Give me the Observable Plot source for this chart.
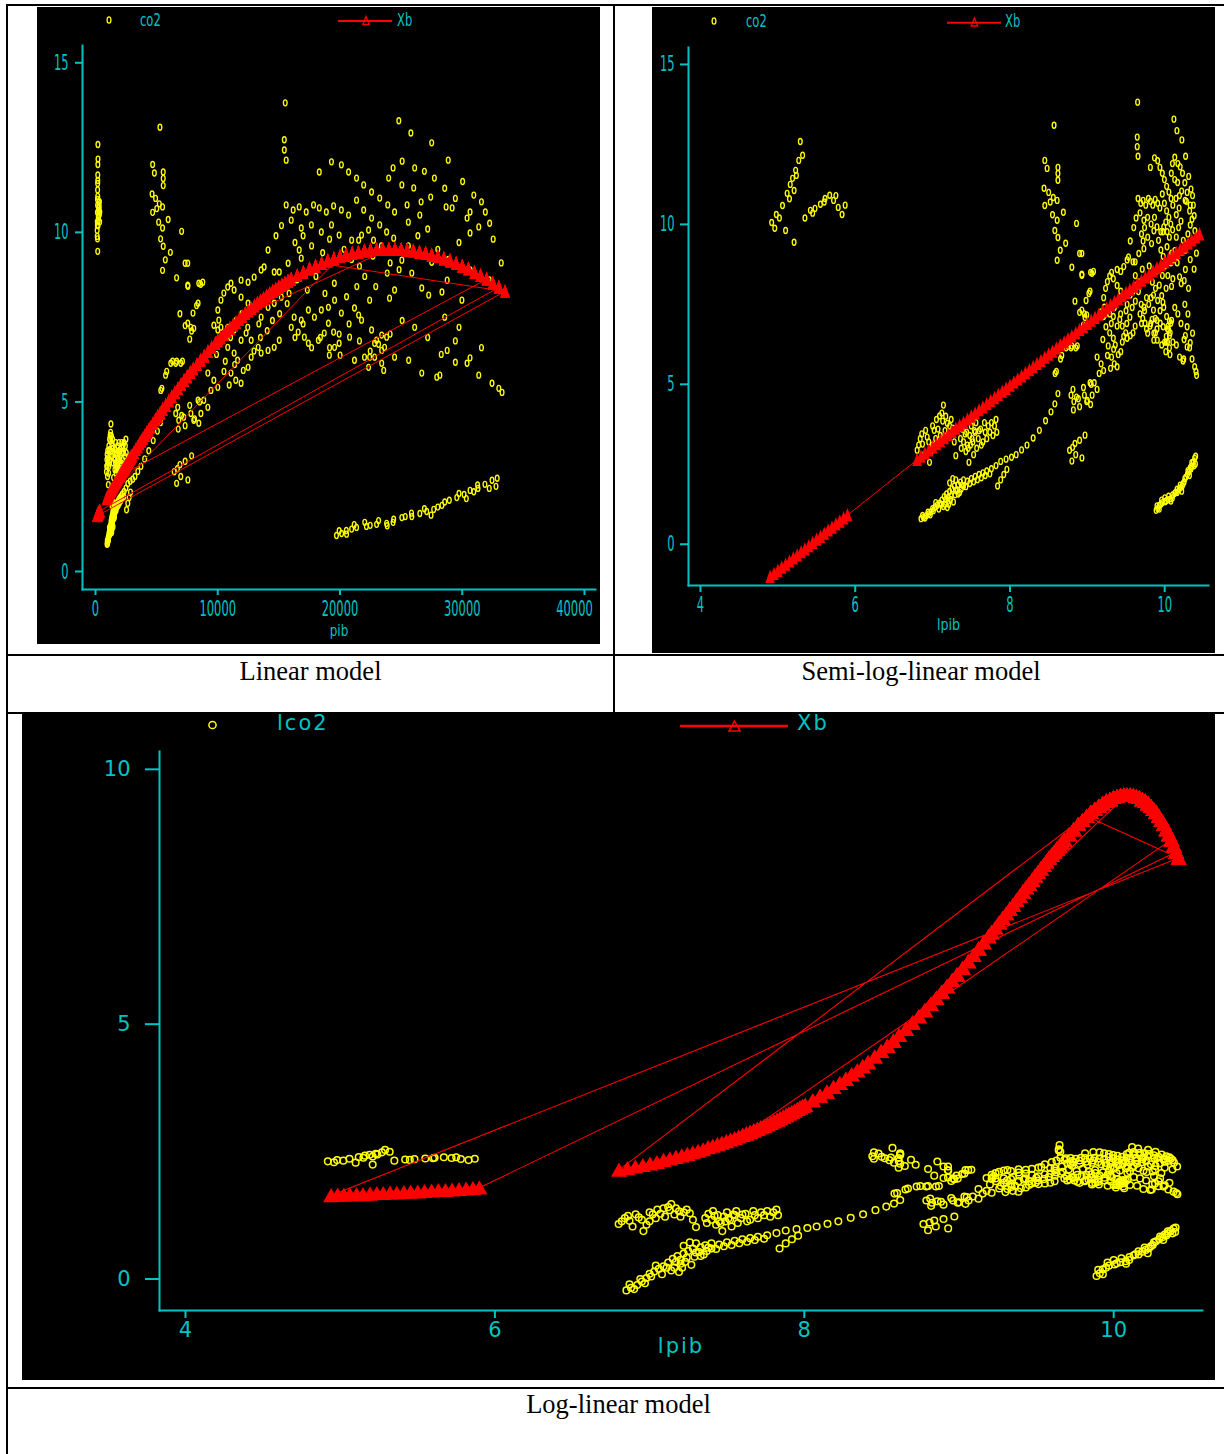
<!DOCTYPE html>
<html><head><meta charset="utf-8">
<script src="https://cdn.jsdelivr.net/npm/d3@7"></script>
<script src="https://cdn.jsdelivr.net/npm/@observablehq/plot@0.6"></script>
<style>
html,body{margin:0;padding:0;background:#fff;}
#page{position:relative;width:1224px;height:1454px;overflow:hidden;background:#fff;}
.rule{position:absolute;background:#000;}
.panel{position:absolute;background:#000;}
.panel svg{display:block;}
#overlay{position:absolute;left:0;top:0;pointer-events:none;}
</style></head><body><div id="page">
<div class="rule" style="left:6px;top:4px;width:2px;height:1450px"></div>
<div class="rule" style="left:6px;top:4px;width:1218px;height:2px"></div>
<div class="rule" style="left:613px;top:4px;width:2px;height:709px"></div>
<div class="rule" style="left:6px;top:654px;width:1218px;height:2px"></div>
<div class="rule" style="left:6px;top:712px;width:1218px;height:2px"></div>
<div class="rule" style="left:6px;top:1387px;width:1218px;height:2px"></div>
<div class="panel" id="p1" style="left:37px;top:7px;width:563px;height:637px"></div>
<div class="panel" id="p2" style="left:652px;top:7px;width:563px;height:646px"></div>
<div class="panel" id="p3" style="left:22px;top:714px;width:1193px;height:666px"></div>
<svg id="overlay" width="1224" height="1454">
 <g font-family="'DejaVu Sans', sans-serif" fill="#00c4c4" font-size="17">
  <ellipse cx="109" cy="20" rx="1.9" ry="3.2" fill="none" stroke="#ffff00" stroke-width="1.3"/>
  <text transform="translate(140,25.5) scale(0.68,1)">co2</text>
  <line x1="338" x2="392" y1="21" y2="21" stroke="#ff0000" stroke-width="2"/>
  <path d="M366,16.5L369.3,24.5L362.7,24.5Z" fill="none" stroke="#ff0000" stroke-width="1.3"/>
  <text transform="translate(397,25.5) scale(0.68,1)">Xb</text>
  <ellipse cx="714" cy="21" rx="1.9" ry="3.2" fill="none" stroke="#ffff00" stroke-width="1.3"/>
  <text transform="translate(746,26.5) scale(0.68,1)">co2</text>
  <line x1="947" x2="1001" y1="22.7" y2="22.7" stroke="#ff0000" stroke-width="2"/>
  <path d="M974.5,18L977.8,26L971.2,26Z" fill="none" stroke="#ff0000" stroke-width="1.3"/>
  <text transform="translate(1005,26.5) scale(0.68,1)">Xb</text>
 </g>
 <g font-family="'DejaVu Sans', sans-serif" fill="#00c4c4" font-size="21" letter-spacing="2">
  <circle cx="212.5" cy="725" r="3.6" fill="none" stroke="#ffff00" stroke-width="1.5"/>
  <text x="277" y="730">lco2</text>
  <line x1="680" x2="788" y1="726" y2="726" stroke="#ff0000" stroke-width="2.5"/>
  <path d="M734.5,721L740,731L729,731Z" fill="none" stroke="#ff0000" stroke-width="1.5"/>
  <text x="797" y="730">Xb</text>
 </g>
 <g font-family="'Liberation Serif','Times New Roman',serif" font-size="26.5" fill="#000" text-anchor="middle">
  <text x="310.5" y="680">Linear model</text>
  <text x="921" y="680">Semi-log-linear model</text>
  <text x="618.5" y="1413">Log-linear model</text>
 </g>
</svg>
</div>
<script>
const CYAN = "#00c4c4", YELLOW = "#ffff00", RED = "#ff0000";

// ---- Observations: [lpib, co2] (lpib = log of pib) ----
const obsPoorHighCo2 = [[4.92,10.06],[4.96,9.88],[4.98,10.31],[5.02,10.2],[5.06,10.59],[5.10,9.81],[5.12,10.97],[5.15,10.8],[5.16,11.25],[5.19,11.44],[5.21,11.06],[5.21,9.44],[5.23,11.69],[5.24,11.53],[5.27,12.0],[5.29,12.59],[5.32,12.16],[5.35,10.2],[5.42,10.44],[5.45,10.35],[5.48,10.5],[5.55,10.63],[5.6,10.7],[5.61,10.81],[5.67,10.91],[5.72,10.75],[5.75,10.9],[5.78,10.53],[5.83,10.31],[5.87,10.6]];
const obsLowB1 = [[6.80,2.94],[6.84,3.3],[6.87,3.13],[6.91,3.56],[6.95,3.2],[6.96,2.56],[6.98,2.9],[7.0,3.1],[7.02,3.56],[7.05,3.9],[7.09,4.01],[7.12,4.1],[7.14,4.35],[7.17,4.0],[7.19,3.78],[7.22,3.7],[7.26,3.63],[7.30,2.77],
[6.82,3.1],[6.86,3.45],[6.89,2.8],[6.93,3.35],[7.0,3.7],[7.04,3.3],[7.07,3.6],[7.10,3.4],[7.13,3.85],[7.16,3.55],[7.20,3.4],[7.24,3.9],[7.28,3.2]];
const obsLowB2 = [[7.36,3.3],[7.38,3.6],[7.40,3.2],[7.42,3.45],[7.43,2.9],[7.44,3.5],[7.45,3.1],[7.46,3.0],[7.47,2.56],[7.48,3.4],[7.50,3.7],[7.51,3.3],[7.52,3.2],[7.53,2.8],[7.54,3.55],[7.55,3.5],[7.57,3.0],[7.59,3.3],[7.62,3.6],[7.65,3.2],[7.68,3.5],[7.72,3.7],[7.76,3.8],[7.80,3.7],[7.83,3.5],
[7.37,3.0],[7.41,3.8],[7.49,3.1],[7.56,3.8],[7.60,3.55],[7.63,3.1],[7.67,3.8],[7.70,3.3],[7.74,3.5],[7.78,3.4],[7.82,3.9]];
const obsLowB3 = [[6.85,0.80],[6.88,0.84],[6.92,0.89],[6.95,0.95],[6.98,1.02],[7.00,1.11],[7.03,1.16],[7.06,1.22],[7.09,1.28],[7.12,1.38],[7.15,1.49],[7.16,1.25],[7.18,1.57],[7.19,1.15],[7.20,1.46],[7.20,1.35],[7.22,1.65],[7.22,1.92],[7.24,1.52],[7.25,1.73],[7.26,2.05],[7.27,1.32],[7.28,1.82],[7.30,1.68],[7.30,2.01],[7.33,1.86],[7.33,1.57],[7.36,1.94],[7.37,1.73],[7.40,2.01],[7.40,1.82],[7.45,1.97],[7.50,2.05],[7.55,2.12],[7.60,2.18],[7.65,2.23],[7.70,2.29],[7.76,2.36],[7.82,2.46],[7.84,1.82],[7.88,2.59],[7.88,2.01],[7.92,2.18],[7.95,2.66],[7.96,2.34],[8.02,2.72],[8.08,2.80],[8.15,2.95],[8.22,3.10],[8.30,3.32],[8.38,3.56],[8.46,3.86],[8.53,4.14],[8.58,4.39],[8.62,4.71],
[6.87,0.90],[6.90,0.82],[6.94,1.0],[6.97,0.92],[7.01,1.05],[7.04,1.30],[7.08,1.10],[7.11,1.25],[7.14,1.18],[7.17,1.40],[7.21,1.25],[7.23,1.40],[7.29,1.55],[7.32,1.70],[7.35,1.62],[7.38,1.85],[7.43,1.80],[7.48,1.90],[7.53,1.95],[7.58,2.02],[7.63,2.08],[7.68,2.15],[7.74,2.20]];
const obsMidG = [[8.77,2.94],[8.80,2.6],[8.81,3.03],[8.84,3.15],[8.85,2.8],[8.90,3.25],[8.93,2.7],[8.97,3.41],[8.82,4.2],[8.86,4.6],[8.90,4.3],[8.95,4.9],[9.0,4.5],[9.05,5.0],[8.60,5.4],[8.67,5.9],[8.75,6.2],[8.80,6.2],[8.87,6.2]];
const obsMidHighD = [[8.57,13.1],[8.45,12.0],[8.48,11.75],[8.62,11.78],[8.62,11.59],[8.62,11.38],[8.44,11.13],[8.45,10.59],[8.56,10.84],[8.61,10.75],[8.69,10.38],[8.61,10.13],[8.58,9.81],[8.62,9.59],[8.72,9.41],[8.65,9.19],[8.61,8.88],[8.52,10.7],[8.55,10.3],[8.50,11.0],[8.86,10.03],[8.90,9.09],[8.80,8.66],[8.93,8.41],[9.06,8.47],[9.02,7.84],[8.90,7.25],[8.97,7.09],[8.84,7.6],[8.95,6.85]];
const obsCloudMid = [[9.555,9.48],[9.721,9.48],[9.731,9.24],[9.665,9.09],[9.950,9.77],[9.977,9.77],[10.014,10.07],[10.161,8.80],[10.192,8.36],[10.213,8.15],[10.267,8.59],[10.105,8.30],[10.088,8.06],[10.018,8.00],[9.961,7.77],[9.977,7.56],[9.909,7.62],[9.881,8.00],[9.855,7.79],[9.824,7.71],[9.793,7.50],[9.765,7.71],[9.731,7.41],[9.696,7.50],[9.681,7.20],[9.716,7.06],[9.746,6.91],[9.765,6.73],[9.811,6.82],[9.837,7.03],[9.855,7.32],[9.877,7.06],[9.900,6.73],[9.881,6.61],[9.859,6.38],[9.904,6.38],[9.942,6.91],[9.988,7.41],[10.025,7.12],[10.043,6.82],[10.061,6.52],[10.036,6.32],[9.999,6.32],[10.014,6.02],[10.068,5.93],[9.961,6.23],[9.618,6.82],[9.590,6.61],[9.555,6.52],[9.514,6.44],[9.496,6.61],[9.452,6.82],[9.419,7.03],[9.385,6.82],[9.336,7.12],[9.289,7.20],[9.514,7.50],[9.555,7.79],[9.590,7.91],[9.629,8.09],[9.471,7.71],[9.432,7.91],[9.385,8.09],[9.336,8.30],[9.385,8.59],[9.432,8.53],[9.471,8.68],[9.514,8.89],[9.590,8.83],[9.618,8.83],[9.532,8.98],[9.211,7.71],[9.236,8.00],[9.259,8.21],[9.289,8.39],[9.313,8.50],[9.219,7.41],[9.178,7.26],[9.211,7.12],[9.236,7.20]];
const obsCloudDense = [[9.60,9.9],[9.63,10.2],[9.70,9.7],[9.74,9.9],[9.78,9.6],[9.83,9.4],[9.86,9.8],[9.92,9.5],[9.95,9.2],[9.98,9.0],[10.03,9.3],[10.06,9.6],[10.09,9.1],[10.12,8.9],[10.15,9.6],[10.18,9.9],[10.21,10.1],[10.24,9.5],[10.27,9.2],[10.30,9.7],[10.33,10.6],[10.36,10.9],[10.39,9.8],[10.41,9.1],
[9.62,8.4],[9.67,8.2],[9.71,8.6],[9.76,8.3],[9.80,8.7],[9.84,8.2],[9.88,8.5],[9.93,8.1],[9.97,8.4],[10.00,8.7],[10.04,8.4],[10.08,8.8],
[9.50,7.3],[9.55,7.1],[9.58,7.4],[9.62,7.6],[9.66,7.9],[9.70,6.9],[9.74,7.3],[9.78,6.6],[9.82,6.9],[9.86,6.6],[9.90,7.0],[9.94,7.3],[9.98,6.8],[10.02,6.5],[10.05,6.7],[10.09,7.0],[10.13,7.4],[10.17,7.2],[10.21,6.9],[10.25,6.4],[10.29,6.8],[10.33,6.3],
[9.20,6.4],[9.24,6.8],[9.27,6.2],[9.31,6.9],[9.35,7.4],[9.39,7.6],[9.43,7.2],[9.47,6.5],[9.51,6.9],[9.26,5.9],[9.30,5.5],[9.34,6.1],
[10.20,11.8],[10.23,11.6],[10.26,11.3],[10.29,11.0],[10.31,11.5],[10.34,11.1],[10.37,10.6],[10.17,11.9],[10.13,12.1],[10.10,11.9],[10.15,10.3],[10.19,10.9]];
const obsCloudLow = [[9.126,5.85],[9.178,5.64],[9.211,5.43],[9.153,5.34],[9.089,5.05],[9.126,4.84],[9.062,4.66],[9.035,5.05],[8.962,4.66],[8.992,4.46],[9.042,4.37],[8.814,4.84],[8.884,4.55],[8.789,4.66],[8.826,4.46],[8.962,7.20],[8.929,7.32],[8.992,7.17],[8.789,6.14],[8.726,6.14],[8.851,6.14],[8.654,5.79],[8.583,5.34],[8.984,7.62],[9.035,7.91],[8.929,9.09],[8.929,8.44],[9.042,8.50],[9.080,8.53],[9.289,6.61],[9.336,6.44],[9.361,6.23],[9.400,5.93],[9.385,5.55],[9.348,5.64],[9.313,5.85],[9.452,6.32],[9.432,6.02]];
const obsCloudRight = [[10.105,6.32],[10.151,6.23],[10.192,5.85],[10.237,5.73],[10.246,5.79],[10.267,6.52],[10.290,6.17],[10.322,6.14],[10.353,5.79],[10.387,5.55],[10.404,5.40],[10.412,5.28],[10.061,6.97],[10.078,6.91],[10.071,6.61],[10.036,6.73],[10.018,6.32],[10.061,6.14],[10.129,9.18],[10.222,9.12],[10.252,8.24],[10.308,8.0],[10.30,7.2],[10.36,6.6],[10.26,7.5],[10.33,8.9],[10.38,8.6]];
const obsCloudHigh = [[9.650,13.82],[9.645,12.73],[9.645,12.43],[9.655,12.13],[10.119,13.29],[10.158,12.93],[10.222,12.64],[10.270,12.13],[9.655,10.81],[9.691,10.66],[9.721,10.75],[9.755,10.60],[9.789,10.81],[9.815,10.72],[9.846,10.60],[9.877,10.78],[9.909,10.66],[9.938,10.51],[9.681,10.36],[9.731,10.13],[9.779,10.22],[9.824,10.01],[9.868,10.22],[9.900,9.92],[9.815,11.78],[9.868,12.08],[9.909,11.99],[9.938,11.78],[9.969,11.60],[9.996,11.40],[10.025,11.19],[10.054,11.01],[10.082,10.81],[10.105,10.60],[9.969,10.95],[9.996,10.66],[10.025,10.42],[10.054,10.22],[10.078,10.01],[10.102,9.83],[9.988,9.92],[10.032,9.77],[10.146,10.81],[10.186,10.51],[10.219,11.04],[10.264,10.75],[10.281,10.72],[10.322,10.42],[10.330,9.98],[10.353,10.16],[10.381,10.27],[10.129,11.40],[10.167,11.31],[10.085,11.60]];
const obsRichLowCo2 = [[9.889,1.06],[9.929,1.21],[9.969,1.30],[10.006,1.33],[10.043,1.39],[10.078,1.42],[10.102,1.54],[10.129,1.59],[10.161,1.62],[10.186,1.71],[10.207,1.77],[10.228,1.83],[10.252,1.95],[10.273,2.10],[10.294,2.18],[10.314,2.27],[10.330,2.39],[10.351,2.45],[10.369,2.57],[10.387,2.69],[10.397,2.51],[9.91,1.12],[9.95,1.25],[10.02,1.36],[10.14,1.62],[10.24,1.90],[10.34,2.35],
[9.90,1.2],[9.96,1.38],[10.0,1.45],[10.05,1.5],[10.1,1.45],[10.16,1.72],[10.2,1.85],[10.26,2.05],[10.3,2.3],[10.35,2.55],[10.38,2.45],[10.4,2.75],[9.93,1.1],[10.08,1.35],[10.22,1.66],[10.32,2.15]];

// ---- Fitted values Xb of the linear (quadratic in pib) model: [pib, Xb] ----
const fitQuadratic = [[140,1.64],[146,1.65],[152,1.65],[158,1.66],[165,1.66],[172,1.66],[180,1.67],[188,1.68],[196,1.68],[205,1.69],[214,1.69],[224,1.70],[234,1.71],[245,1.71],[256,1.72],[268,1.73],[280,1.74],[293,1.74],[306,1.75],[320,1.76],[335,1.77],[350,1.78],[365,1.79],
[900,2.14],[950,2.17],[1000,2.20],[1050,2.23],[1100,2.26],[1150,2.29],[1200,2.33],[1250,2.36],[1300,2.39],[1350,2.42],[1400,2.45],[1450,2.48],[1500,2.51],[1550,2.54],[1600,2.58],[1650,2.61],[1700,2.64],[1750,2.67],[1800,2.70],[1850,2.73],[1900,2.76],[1950,2.79],[2000,2.82],[2050,2.85],[2100,2.88],[2150,2.91],[2200,2.94],[2250,2.97],[2300,3.00],[2350,3.03],[2400,3.06],[2450,3.09],[2500,3.12],[2550,3.15],[2600,3.18],[2650,3.21],[2700,3.24],[2750,3.27],[2800,3.30],[2850,3.33],[2900,3.36],[2950,3.39],
[3000,3.41],[3150,3.50],[3300,3.59],[3450,3.67],[3600,3.76],[3750,3.84],[3900,3.92],[4050,4.01],[4200,4.09],[4350,4.17],[4500,4.25],[4700,4.36],[4900,4.47],[5100,4.57],[5300,4.67],[5500,4.78],[5750,4.90],[6000,5.03],[6250,5.15],[6500,5.27],[6750,5.39],[7000,5.51],[7250,5.63],[7500,5.74],[7750,5.86],[8000,5.97],[8300,6.10],[8600,6.23],[8900,6.35],[9200,6.48],[9500,6.60],[9800,6.72],[10000,6.80],
[10250,6.89],[10500,6.99],[10750,7.08],[11000,7.17],[11250,7.26],[11500,7.34],[11750,7.43],[12000,7.51],[12250,7.60],[12500,7.68],[12750,7.75],[13000,7.83],[13250,7.91],[13500,7.98],[13750,8.05],[14000,8.12],[14250,8.19],[14500,8.26],[14750,8.32],[15000,8.38],[15250,8.44],[15500,8.50],[15750,8.56],[16000,8.62],[16500,8.72],[17000,8.82],[17500,8.92],[18000,9.00],[18500,9.08],[19000,9.16],[19500,9.22],[20000,9.28],[20500,9.33],[21000,9.38],[21500,9.41],[22000,9.45],[22500,9.47],[23000,9.49],[23500,9.50],[24000,9.50],[24500,9.50],[25000,9.49],[25500,9.47],[26000,9.45],[26500,9.41],[27000,9.38],[27500,9.33],[28000,9.28],[28500,9.22],[29000,9.16],[29500,9.08],[30000,9.00],[30500,8.92],[31000,8.82],[31500,8.72],[32000,8.62],[32500,8.50],[33000,8.38],[33500,8.26]];
// pib span of each country, in data (plotting) order; [from, to]
const countrySpans = [[14000,33500],[140,365],[33000,20000],[900,10000],[5000,24000],[12000,32000],[2000,18000],[17000,33500],[18500,29000],[26000,33000]];

// ---- Fitted values Xb of the semi-log-linear model: [lpib, Xb] ----
const fitSemiLog = [[4.90,-1.02],[4.95,-0.93],[5.00,-0.83],[5.05,-0.73],[5.10,-0.64],[5.15,-0.54],[5.20,-0.44],[5.25,-0.35],[5.30,-0.25],[5.35,-0.16],[5.40,-0.06],[5.45,0.04],[5.50,0.14],[5.55,0.23],[5.60,0.33],[5.65,0.43],[5.70,0.52],[5.75,0.62],[5.80,0.71],[5.85,0.81],[5.90,0.91],
[6.80,2.64],[6.85,2.74],[6.90,2.84],[6.95,2.93],[7.00,3.03],[7.05,3.13],[7.10,3.22],[7.15,3.32],[7.20,3.42],[7.25,3.51],[7.30,3.61],[7.35,3.71],[7.40,3.80],[7.45,3.90],[7.50,4.00],[7.55,4.09],[7.60,4.19],[7.65,4.28],[7.70,4.38],[7.75,4.48],[7.80,4.57],[7.85,4.67],[7.90,4.77],[7.95,4.86],[8.00,4.96],[8.05,5.06],[8.10,5.15],[8.15,5.25],[8.20,5.35],[8.25,5.44],[8.30,5.54],[8.35,5.64],[8.40,5.73],[8.45,5.83],[8.50,5.93],[8.55,6.02],[8.60,6.12],[8.65,6.22],[8.70,6.31],[8.75,6.41],[8.80,6.50],[8.85,6.60],[8.90,6.70],[8.95,6.79],[9.00,6.89],[9.05,6.99],[9.10,7.08],[9.15,7.18],[9.20,7.28],[9.25,7.37],[9.30,7.47],[9.35,7.57],[9.40,7.66],[9.45,7.76],[9.50,7.86],[9.55,7.95],[9.60,8.05],[9.65,8.15],[9.70,8.24],[9.75,8.34],[9.80,8.43],[9.85,8.53],[9.90,8.63],[9.95,8.72],[10.00,8.82],[10.05,8.92],[10.10,9.01],[10.15,9.11],[10.20,9.21],[10.25,9.30],[10.30,9.40],[10.35,9.50],[10.40,9.59],[10.45,9.69]];

// ---- Ticks ----
const xTicksPib = [0, 10000, 20000, 30000, 40000];
const yTicksCo2 = [0, 5, 10, 15];
const xTicksLpib = [4, 6, 8, 10];
const yTicksLco2 = [0, 5, 10];

const observations = [].concat(obsPoorHighCo2, obsLowB1, obsLowB2, obsLowB3, obsMidG, obsMidHighD, obsCloudMid, obsCloudDense, obsCloudLow, obsCloudRight, obsCloudHigh, obsRichLowCo2);
const xbSeq = countrySpans.flatMap(([a, b]) => {
  const lo = Math.min(a, b), hi = Math.max(a, b);
  const seg = fitQuadratic.filter(([p]) => p >= lo && p <= hi);
  return a > b ? seg.reverse() : seg;
});

function ovalSymbol(ax, ay) {
  return {draw(ctx, size) {
    const r = Math.sqrt(size / Math.PI), rx = r * ax, ry = r * ay, k = 0.5523;
    ctx.moveTo(rx, 0);
    ctx.bezierCurveTo(rx, k * ry, k * rx, ry, 0, ry);
    ctx.bezierCurveTo(-k * rx, ry, -rx, k * ry, -rx, 0);
    ctx.bezierCurveTo(-rx, -k * ry, -k * rx, -ry, 0, -ry);
    ctx.bezierCurveTo(k * rx, -ry, rx, -k * ry, rx, 0);
    ctx.closePath();
  }};
}
function triSymbol(wk, hk) {
  return {draw(ctx, size) {
    const r = Math.sqrt(size / Math.PI), w = r * wk / 2, h = r * hk / 2;
    ctx.moveTo(0, -h); ctx.lineTo(w, h); ctx.lineTo(-w, h); ctx.closePath();
  }};
}
const ovalTop = ovalSymbol(0.62, 1);
const triTop = triSymbol(1.6, 2.2);
const triBottom = triSymbol(2.4, 2.1);

function condense(svg, sxTicks, sxTitle, title) {
  svg.querySelectorAll("text").forEach(t => {
    const sx = t.textContent === title ? sxTitle : sxTicks;
    const x = parseFloat(t.getAttribute("x")) || 0;
    const tr = t.getAttribute("transform") || "";
    t.setAttribute("transform", `${tr} translate(${x},0) scale(${sx},1) translate(${-x},0)`);
  });
}
function shiftLabel(svg, label, dx) {
  svg.querySelectorAll("text").forEach(t => {
    if (t.textContent === label) t.setAttribute("transform", `${t.getAttribute("transform") || ""} translate(${dx},0)`);
  });
}
const fmt = d3.format("d");

// Panel 1: linear model
const p1 = Plot.plot({
  width: 563, height: 637, marginLeft: 45, marginRight: 5, marginTop: 38, marginBottom: 55,
  style: {background: "#000", color: CYAN, fontFamily: "'DejaVu Sans', sans-serif", fontSize: "22px"},
  x: {domain: [-1063, 40900]}, y: {domain: [-0.531, 15.51]},
  marks: [
    Plot.frame({anchor: "left", stroke: CYAN, strokeWidth: 2}),
    Plot.frame({anchor: "bottom", stroke: CYAN, strokeWidth: 2}),
    Plot.axisY({ticks: yTicksCo2, tickSize: 7, tickPadding: 7, strokeWidth: 2, label: null, tickFormat: fmt}),
    Plot.axisX({ticks: xTicksPib, tickSize: 6, tickPadding: 5, strokeWidth: 2, label: null, tickFormat: fmt}),
    Plot.dot(observations, {x: d => Math.exp(d[0]), y: d => d[1], symbol: ovalTop, r: 3, fill: "none", stroke: YELLOW, strokeWidth: 1.35}),
    Plot.line(xbSeq, {x: d => d[0], y: d => d[1], stroke: RED, strokeWidth: 1}),
    Plot.dot(xbSeq, {x: d => d[0], y: d => d[1], symbol: triTop, r: 5.2, fill: RED, stroke: RED, strokeWidth: 1.2}),
    Plot.text(["pib"], {text: d => d, frameAnchor: "bottom", dy: 46, fill: CYAN, fontSize: 15})
  ]
});
shiftLabel(p1, "40000", -10);
condense(p1, 0.52, 0.8, "pib");
document.getElementById("p1").append(p1);

// Panel 2: semi-log-linear model
const p2 = Plot.plot({
  width: 563, height: 646, marginLeft: 36, marginRight: 7, marginTop: 40, marginBottom: 68,
  style: {background: "#000", color: CYAN, fontFamily: "'DejaVu Sans', sans-serif", fontSize: "20.5px"},
  x: {domain: [3.845, 10.566]}, y: {domain: [-1.29, 15.53]},
  marks: [
    Plot.frame({anchor: "left", stroke: CYAN, strokeWidth: 2}),
    Plot.frame({anchor: "bottom", stroke: CYAN, strokeWidth: 2}),
    Plot.axisY({ticks: yTicksCo2, tickSize: 8, tickPadding: 6, strokeWidth: 2, label: null, tickFormat: fmt}),
    Plot.axisX({ticks: xTicksLpib, tickSize: 7, tickPadding: 5, strokeWidth: 2, label: null, tickFormat: fmt}),
    Plot.dot(observations, {x: d => d[0], y: d => d[1], symbol: ovalTop, r: 3, fill: "none", stroke: YELLOW, strokeWidth: 1.35}),
    Plot.line(fitSemiLog, {x: d => d[0], y: d => d[1], stroke: RED, strokeWidth: 1}),
    Plot.dot(fitSemiLog, {x: d => d[0], y: d => d[1], symbol: triTop, r: 5, fill: RED, stroke: RED, strokeWidth: 1.2}),
    Plot.text(["lpib"], {text: d => d, frameAnchor: "bottom", dy: 44, fill: CYAN, fontSize: 16})
  ]
});
condense(p2, 0.56, 0.79, "lpib");
document.getElementById("p2").append(p2);

// Panel 3: log-linear model
const p3 = Plot.plot({
  width: 1193, height: 666, marginLeft: 137, marginRight: 13, marginTop: 37, marginBottom: 70,
  style: {background: "#000", color: CYAN, fontFamily: "'DejaVu Sans', sans-serif", fontSize: "21px"},
  x: {domain: [3.832, 10.574]}, y: {domain: [-0.618, 10.35]},
  marks: [
    Plot.frame({anchor: "left", stroke: CYAN, strokeWidth: 2}),
    Plot.frame({anchor: "bottom", stroke: CYAN, strokeWidth: 2}),
    Plot.axisY({ticks: yTicksLco2, tickSize: 14, tickPadding: 15, strokeWidth: 2, label: null, tickFormat: fmt}),
    Plot.axisX({ticks: xTicksLpib, tickSize: 8, tickPadding: 4, strokeWidth: 2, label: null, tickFormat: fmt}),
    Plot.dot(observations, {x: d => d[0], y: d => Math.log(d[1]), r: 3.3, fill: "none", stroke: YELLOW, strokeWidth: 1.5}),
    Plot.line(xbSeq, {x: d => Math.log(d[0]), y: d => d[1], stroke: RED, strokeWidth: 1.1}),
    Plot.dot(xbSeq, {x: d => Math.log(d[0]), y: d => d[1], symbol: triBottom, r: 5.8, fill: RED, stroke: RED, strokeWidth: 1.3}),
    Plot.text(["lpib"], {text: d => d, frameAnchor: "bottom", dy: 42, fill: CYAN})
  ]
});
p3.querySelectorAll("text").forEach(t => { if (t.textContent === "lpib") t.style.letterSpacing = "2px"; });
document.getElementById("p3").append(p3);
</script>
</body></html>
